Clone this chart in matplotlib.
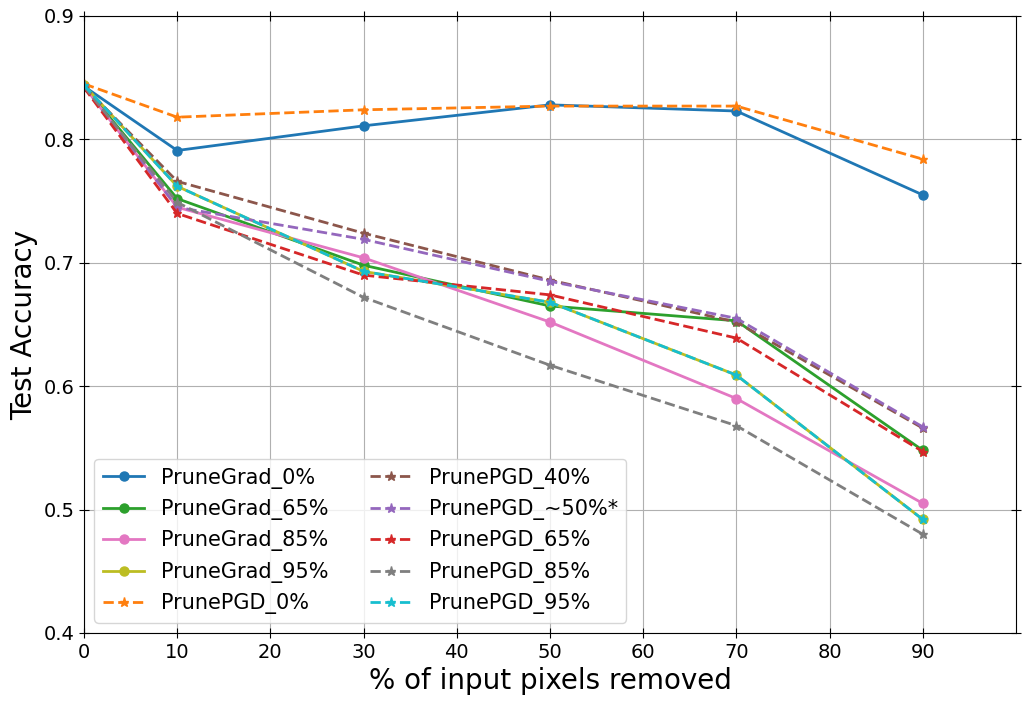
import numpy as np
import matplotlib
matplotlib.use('Agg')
import matplotlib.pyplot as plt

pixels = [0, 10, 30, 50, 70, 90]

grad_0 = [0.843, 0.791, 0.811, 0.828, 0.823, 0.755]
grad_65 = [0.843, 0.752, 0.698, 0.665, 0.653, 0.548]
grad_85 = [0.843, 0.745, 0.704, 0.652, 0.590, 0.505]
grad_95 = [0.844, 0.762, 0.693, 0.668, 0.609, 0.492]
pgd_0 = [0.845, 0.818, 0.824, 0.827, 0.827, 0.784]
pgd_40 = [0.843, 0.766, 0.724, 0.686, 0.652, 0.566]
pgd_50 = [0.843, 0.745, 0.719, 0.685, 0.655, 0.567]
pgd_65 = [0.842, 0.740, 0.690, 0.674, 0.639, 0.547]
pgd_85 = [0.843, 0.749, 0.672, 0.617, 0.568, 0.480]
pgd_95 = [0.844, 0.762, 0.693, 0.668, 0.609, 0.492]

grad_runs = [('PruneGrad_0%', grad_0, 'C0'),
             ('PruneGrad_65%', grad_65, 'C2'),
             ('PruneGrad_85%', grad_85, 'C6'),
             ('PruneGrad_95%', grad_95, 'C8')]
pgd_runs = [('PrunePGD_0%', pgd_0, 'C1'),
            ('PrunePGD_40%', pgd_40, 'C5'),
            ('PrunePGD_~50%*', pgd_50, 'C4'),
            ('PrunePGD_65%', pgd_65, 'C3'),
            ('PrunePGD_85%', pgd_85, 'C7'),
            ('PrunePGD_95%', pgd_95, 'C9')]

fig = plt.figure(figsize=(10.29, 7.05), dpi=100)
ax = fig.add_axes([84/1029., 1 - 633/705., (1016-84)/1029., (633-16)/705.])

for name, vals, c in grad_runs:
    ax.plot(pixels, vals, '-o', color=c, label=name, linewidth=2, markersize=6.5)
for name, vals, c in pgd_runs:
    ax.plot(pixels, vals, '--*', color=c, label=name, linewidth=2, markersize=6.5)

ax.set_xlim(0, 100)
ax.set_ylim(0.4, 0.9)
ax.set_xticks(range(0, 100, 10))
ax.set_yticks([0.4, 0.5, 0.6, 0.7, 0.8, 0.9])
ax.grid(True, color='#b0b0b0')
ax.tick_params(direction='inout', top=True, right=True, labelsize=14, length=7)
ax.set_xlabel('% of input pixels removed', fontsize=20)
ax.set_ylabel('Test Accuracy', fontsize=20)
ax.legend(loc='lower left', ncol=2, fontsize=15)

fig.savefig('out.png', dpi=100)
